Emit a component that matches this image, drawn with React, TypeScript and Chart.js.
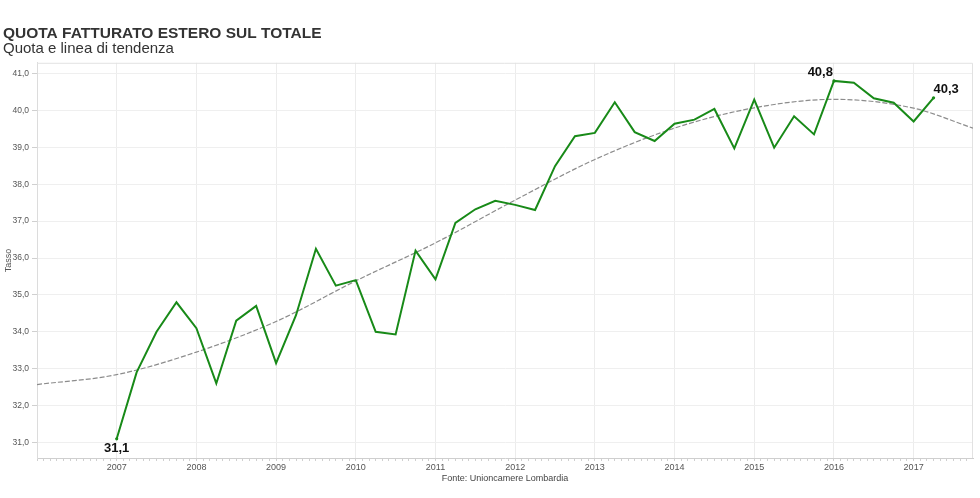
import React, { useEffect, useRef } from 'react';
import { Chart, registerables } from 'chart.js';

Chart.register(...registerables);

// ---- Data ----
const periods = [
  '2007 T1', '2007 T2', '2007 T3', '2007 T4',
  '2008 T1', '2008 T2', '2008 T3', '2008 T4',
  '2009 T1', '2009 T2', '2009 T3', '2009 T4',
  '2010 T1', '2010 T2', '2010 T3', '2010 T4',
  '2011 T1', '2011 T2', '2011 T3', '2011 T4',
  '2012 T1', '2012 T2', '2012 T3', '2012 T4',
  '2013 T1', '2013 T2', '2013 T3', '2013 T4',
  '2014 T1', '2014 T2', '2014 T3', '2014 T4',
  '2015 T1', '2015 T2', '2015 T3', '2015 T4',
  '2016 T1', '2016 T2', '2016 T3', '2016 T4',
  '2017 T1', '2017 T2',
];

const quota = [
  31.1, 32.9, 34.0, 34.8,
  34.1, 32.6, 34.3, 34.7,
  33.15, 34.45, 36.25, 35.25,
  35.4, 34.0, 33.93, 36.2,
  35.42, 36.95, 37.32, 37.55,
  37.44, 37.3, 38.49, 39.3,
  39.39, 40.22, 39.41, 39.17,
  39.64, 39.75, 40.04, 38.97,
  40.29, 38.99, 39.84, 39.35,
  40.8, 40.75, 40.33, 40.21,
  39.7, 40.34,
];

const trendYears = [2006, 2007, 2008, 2009, 2010, 2011, 2012, 2013, 2014, 2015, 2016, 2017, 2017.745];
const trendValues = [32.57, 32.84, 33.45, 34.28, 35.38, 36.41, 37.57, 38.67, 39.52, 40.07, 40.3, 40.06, 39.52];

const yearTicks = [2007, 2008, 2009, 2010, 2011, 2012, 2013, 2014, 2015, 2016, 2017];
const yTicks = [31, 32, 33, 34, 35, 36, 37, 38, 39, 40, 41];

const labelledIndices = [0, 36, 41];

const TITLE = 'QUOTA FATTURATO ESTERO SUL TOTALE';
const SUBTITLE = 'Quota e linea di tendenza';
const Y_TITLE = 'Tasso';
const SOURCE = 'Fonte: Unioncamere Lombardia';

const FONT = "'Liberation Sans', Arial, Helvetica, sans-serif";
const X_MIN = 2006;
const X_MAX = 2017.745;

function periodToX(p: string): number {
  const [y, q] = p.split(' T');
  return Number(y) + (Number(q) - 1) / 4;
}

function fmt(v: number): string {
  return v.toFixed(1).replace('.', ',');
}

const isYear = (v: number) => Math.abs(v - Math.round(v)) < 1e-6;

const frameAndLabels = {
  id: 'frameAndLabels',
  beforeDatasetsDraw(chart: any) {
    const { ctx, chartArea } = chart;
    ctx.save();
    ctx.strokeStyle = '#e2e2e2';
    ctx.lineWidth = 1;
    ctx.beginPath();
    ctx.moveTo(chartArea.left, chartArea.top + 0.5);
    ctx.lineTo(chartArea.right - 0.5, chartArea.top + 0.5);
    ctx.lineTo(chartArea.right - 0.5, chartArea.bottom);
    ctx.stroke();
    ctx.restore();
  },
  afterDatasetsDraw(chart: any) {
    const { ctx } = chart;
    const meta = chart.getDatasetMeta(0);
    ctx.save();
    ctx.font = `bold 13px ${FONT}`;
    ctx.fillStyle = '#111';
    ctx.textBaseline = 'alphabetic';
    labelledIndices.forEach((i, k) => {
      const el = meta.data[i];
      if (!el) return;
      const text = fmt(quota[i]);
      if (k === 0) {
        ctx.textAlign = 'center';
        ctx.fillText(text, el.x, el.y + 13.5);
      } else if (k === 1) {
        ctx.textAlign = 'right';
        ctx.fillText(text, el.x - 1, el.y - 5);
      } else {
        ctx.textAlign = 'left';
        ctx.fillText(text, el.x, el.y - 5);
      }
    });
    ctx.restore();
  },
};

export default function App() {
  const ref = useRef<HTMLCanvasElement | null>(null);

  useEffect(() => {
    if (!ref.current) return;
    Chart.defaults.font.family = FONT;

    const quotaPoints = periods.map((p, i) => ({ x: periodToX(p), y: quota[i] }));
    const trendPoints = trendYears.map((x, i) => ({ x, y: trendValues[i] }));

    const minorTicks: { value: number }[] = [];
    for (let m = 0; m <= Math.floor((X_MAX - X_MIN) * 12 + 1e-6); m++) {
      minorTicks.push({ value: X_MIN + m / 12 });
    }

    const chart = new Chart(ref.current, {
      type: 'line',
      data: {
        datasets: [
          {
            label: 'Quota',
            data: quotaPoints,
            borderColor: '#188a18',
            backgroundColor: '#188a18',
            borderWidth: 2,
            pointRadius: (c: any) => (labelledIndices.includes(c.dataIndex) ? 1.6 : 0),
            pointBorderWidth: 0,
            tension: 0,
            fill: false,
          },
          {
            label: 'Tendenza',
            data: trendPoints,
            borderColor: '#8c8c8c',
            borderWidth: 1.2,
            borderDash: [5, 2],
            pointRadius: 0,
            cubicInterpolationMode: 'monotone',
            fill: false,
          },
        ],
      },
      options: {
        responsive: false,
        animation: false,
        devicePixelRatio: window.devicePixelRatio || 1,
        layout: { padding: { left: 3, right: 7, top: 0, bottom: 0 } },
        plugins: {
          legend: { display: false },
          tooltip: { enabled: false },
          title: {
            display: true,
            text: TITLE,
            align: 'start',
            color: '#333',
            font: { family: FONT, size: 15.5, weight: 'bold', lineHeight: 1 },
            padding: { top: 26, bottom: 0 },
          },
          subtitle: {
            display: true,
            text: SUBTITLE,
            align: 'start',
            color: '#333',
            font: { family: FONT, size: 15, weight: 'normal', lineHeight: 1 },
            padding: { top: 0, bottom: 6.3 },
          },
        },
        scales: {
          x: {
            type: 'linear',
            min: X_MIN,
            max: X_MAX,
            afterBuildTicks: (s: any) => {
              s.ticks = minorTicks.map((t) => ({ value: t.value }));
            },
            afterFit: (s: any) => {
              s.height = 40;
            },
            ticks: {
              autoSkip: false,
              maxRotation: 0,
              minRotation: 0,
              padding: 1,
              color: '#555',
              font: { family: FONT, size: 9 },
              callback: (v: any) => {
                const n = Number(v);
                return isYear(n) && yearTicks.includes(Math.round(n)) ? String(Math.round(n)) : '';
              },
            },
            grid: {
              color: (c: any) => (c.tick && isYear(c.tick.value) && yearTicks.includes(Math.round(c.tick.value)) ? '#ececec' : 'rgba(0,0,0,0)'),
              tickColor: '#d0d0d0',
              tickLength: 3,
              drawTicks: true,
              lineWidth: 1,
            },
            border: { display: true, color: '#cfcfcf' },
            title: {
              display: true,
              text: SOURCE,
              color: '#444',
              font: { family: FONT, size: 9 },
              padding: { top: 0, bottom: 13.6 },
            },
          },
          y: {
            type: 'linear',
            min: 30.58,
            max: 41.29,
            afterBuildTicks: (s: any) => {
              s.ticks = yTicks.map((v) => ({ value: v }));
            },
            afterFit: (s: any) => {
              s.width = 34;
            },
            ticks: {
              padding: 3,
              color: '#555',
              font: { family: FONT, size: 8.5 },
              callback: (v: any) => fmt(Number(v)),
            },
            grid: {
              color: '#efefef',
              tickColor: '#d0d0d0',
              tickLength: 5,
              lineWidth: 1,
            },
            border: { display: true, color: '#dcdcdc' },
            title: {
              display: true,
              text: Y_TITLE,
              color: '#555',
              font: { family: FONT, size: 9 },
              padding: { top: 0, bottom: 0 },
            },
          },
        },
      },
      plugins: [frameAndLabels],
    } as any);

    return () => chart.destroy();
  }, []);

  return (
    <div style={{ position: 'fixed', left: 0, top: 0, width: 980, height: 498, background: '#fff' }}>
      <canvas ref={ref} width={980} height={498} style={{ width: 980, height: 498, display: 'block' }} />
    </div>
  );
}
